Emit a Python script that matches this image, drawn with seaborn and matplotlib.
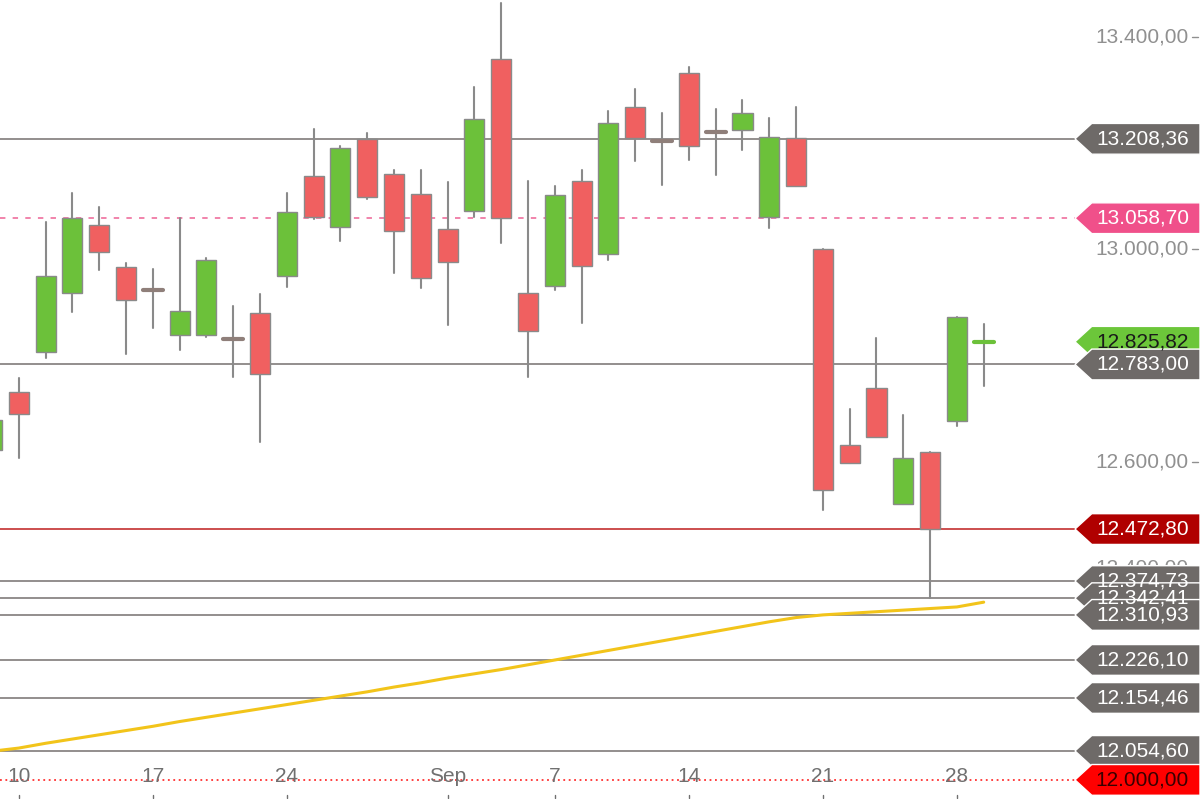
import numpy as np
import pandas as pd
import seaborn as sns
import matplotlib.pyplot as plt
from matplotlib.patches import Polygon
import matplotlib.transforms as mtransforms

# daily candles, Aug 7 .. Sep 29
dates = ['Aug 7', 'Aug 10', 'Aug 11', 'Aug 12', 'Aug 13', 'Aug 14', 'Aug 17', 'Aug 18', 'Aug 19',
         'Aug 20', 'Aug 21', 'Aug 24', 'Aug 25', 'Aug 26', 'Aug 27', 'Aug 28', 'Aug 31', 'Sep 1',
         'Sep 2', 'Sep 3', 'Sep 4', 'Sep 7', 'Sep 8', 'Sep 9', 'Sep 10', 'Sep 11', 'Sep 14',
         'Sep 15', 'Sep 16', 'Sep 17', 'Sep 18', 'Sep 21', 'Sep 22', 'Sep 23', 'Sep 24', 'Sep 25',
         'Sep 28', 'Sep 29']
opens = [12622, 12731, 12807, 12918, 13046, 12967, 12926, 12839, 12839, 12833, 12880, 12950,
         13139, 13042, 13208, 13142, 13105, 13039, 13073, 13359, 12918, 12931, 13129, 12992,
         13269, 13207, 13333, 13223, 13225, 13061, 13210, 13001, 12631, 12739, 12520, 12618,
         12677, 12819]
highs = [12679, 12758, 13052, 13106, 13080, 12975, 12963, 13059, 12984, 12893, 12916, 13106,
         13227, 13195, 13220, 13150, 13150, 13127, 13306, 13465, 13129, 13120, 13150, 13261,
         13303, 13257, 13344, 13265, 13282, 13248, 13269, 13001, 12699, 12833, 12688, 12618,
         12873, 12860]
lows = [12600, 12607, 12795, 12882, 12961, 12803, 12852, 12811, 12835, 12760, 12637, 12929,
        13058, 13016, 13095, 12956, 12927, 12858, 13061, 13012, 12760, 12924, 12861, 12980,
        13167, 13122, 13169, 13140, 13188, 13041, 13120, 12509, 12598, 12647, 12520, 12342.41,
        12667, 12743]
closes = [12679, 12690, 12950, 13059, 12995, 12905, 12924, 12884, 12980, 12831, 12765, 13071,
          13061, 13191, 13099, 13035, 12946, 12976, 13246, 13059, 12846, 13103, 12969, 13238,
          13210, 13205, 13195, 13221, 13257, 13212, 13120, 12547, 12598, 12647, 12607, 12472.80,
          12873, 12825.82]
ma_line = [12054, 12060, 12069, 12077, 12085, 12093, 12101, 12110, 12118, 12126, 12134, 12142,
           12150, 12158, 12166, 12175, 12183, 12192, 12200, 12208, 12217, 12226, 12235, 12244,
           12253, 12262, 12271, 12280, 12289, 12298, 12306, 12311, 12314, 12317, 12320, 12323,
           12326, 12335]

xtick_pos = [1, 6, 11, 17, 21, 26, 31, 36]
xtick_labels = ['10', '17', '24', 'Sep', '7', '14', '21', '28']
ytick_values = [13400, 13000, 12600, 12400]

# (price, line colour, line style, tag colour, tag text colour)
levels = [
    (13208.36, '#8a8685', '-', '#6e6a68', 'white'),
    (13058.70, '#f07aa5', (0, (3, 4)), '#f0508a', 'white'),
    (12825.82, None, None, '#6cc63a', '#1a1a1a'),
    (12783.00, '#8a8685', '-', '#6e6a68', 'white'),
    (12472.80, '#c84040', '-', '#b00000', 'white'),
    (12374.73, '#8a8685', '-', '#6e6a68', 'white'),
    (12342.41, '#8a8685', '-', '#6e6a68', 'white'),
    (12310.93, '#8a8685', '-', '#6e6a68', 'white'),
    (12226.10, '#8a8685', '-', '#6e6a68', 'white'),
    (12154.46, '#8a8685', '-', '#6e6a68', 'white'),
    (12054.60, '#8a8685', '-', '#6e6a68', 'white'),
    (12000.00, '#ff3030', (0, (1, 2)), '#ff0000', '#3a0000'),
]

df = pd.DataFrame({'date': dates, 'open': opens, 'high': highs, 'low': lows,
                   'close': closes, 'ma': ma_line})
df['i'] = np.arange(len(df))


def de_fmt(v):
    return f'{v:,.2f}'.replace(',', 'X').replace('.', ',').replace('X', '.')


sns.set_style('white')
plt.rcParams['font.family'] = ['Liberation Sans', 'DejaVu Sans']

fig = plt.figure(figsize=(12, 7.99), dpi=100)
ax = fig.add_axes([0, 0, 1, 1])
ax.set_xlim(0.3, 45.07)
ax.set_ylim(11964, 13470)
for s in ax.spines.values():
    s.set_visible(False)
ax.set_xticks([])
ax.set_yticks([])

blend = mtransforms.blended_transform_factory(ax.transAxes, ax.transData)
x_end = 1075 / 1200

# y tick labels (partly hidden behind tags)
for v in ytick_values:
    ax.text(0.952, v, de_fmt(v), transform=blend, ha='center', va='center',
            fontsize=15, color='#909090', zorder=1)
    ax.plot([0.993, 0.998], [v, v], transform=blend, color='#909090', lw=1, zorder=1)

# horizontal levels
for price, lc, ls, _, _ in levels:
    if lc is None:
        continue
    ax.plot([0, x_end], [price, price], transform=blend, color=lc, ls=ls,
            lw=1.3, zorder=2)

# moving average
sns.lineplot(data=df, x='i', y='ma', ax=ax, color='#f2c41a', lw=2.2, zorder=3)
ax.set_xlabel('')
ax.set_ylabel('')

# candles
w = 0.75
for _, r in df.iterrows():
    ax.plot([r.i, r.i], [r.low, r.high], color='#8a8a8a', lw=1.5, zorder=4)
    body = abs(r.close - r.open)
    up = r.close >= r.open
    col = '#6cc13a' if up else '#f06060'
    if body < 8:
        ax.plot([r.i - w / 2, r.i + w / 2], [r.close, r.close],
                color='#8f7f7a' if body < 3 else col, lw=3, zorder=5)
    else:
        ax.bar(r.i, body, bottom=min(r.open, r.close), width=w, color=col,
               edgecolor='#8a8a8a', linewidth=1, zorder=5)

# price tags
h = 58
for price, _, _, tc, txtc in levels:
    pts = [(x_end, price), (x_end + 0.014, price + h / 2), (1.0, price + h / 2),
           (1.0, price - h / 2), (x_end + 0.014, price - h / 2)]
    ax.add_patch(Polygon(pts, closed=True, transform=blend, facecolor=tc,
                         edgecolor='white', lw=1, zorder=6))
    ax.text(0.952, price, de_fmt(price), transform=blend, ha='center', va='center',
            fontsize=15, color=txtc, zorder=7)

# x tick labels
for p, lab in zip(xtick_pos, xtick_labels):
    ax.text(p, 12007, lab, ha='center', va='center', fontsize=15, color='#707070', zorder=3)
    ax.plot([p, p], [11966, 11972], color='#707070', lw=1, zorder=3)

fig.savefig('out.png', dpi=100)
